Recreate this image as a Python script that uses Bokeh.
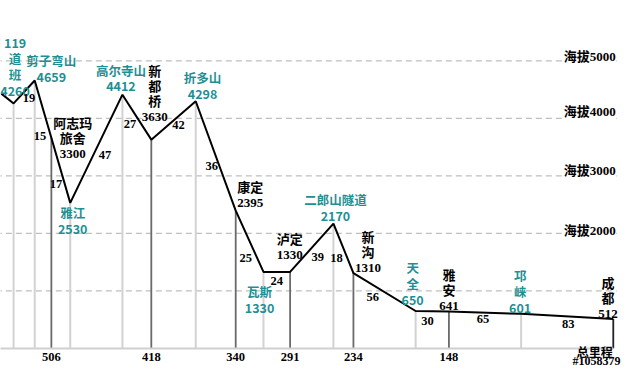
import numpy as np
from bokeh.plotting import figure
from bokeh.models import Range1d, Label
from bokeh.core.properties import value
from bokeh.embed import file_html
from bokeh.resources import INLINE

# ---------------- data ----------------
stations = ["119道班", "剪子弯山", "阿志玛旅舍", "雅江", "高尔寺山", "新都桥", "折多山", "康定",
            "瓦斯", "泸定", "二郎山隧道", "新沟", "天全", "雅安", "邛崃", "成都"]
station_display = ["119\n道\n班", "剪子弯山", "阿志玛\n旅舍", "雅江", "高尔寺山", "新\n都\n桥", "折多山", "康定",
                   "瓦斯", "泸定", "二郎山隧道", "新\n沟", "天\n全", "雅\n安", "邛\n崃", "成\n都"]
elevation_m = [4260, 4659, 3300, 2530, 4412, 3630, 4298, 2395, 1330, 1330, 2170, 1310, 650, 641, 601, 512]
km_to_chengdu = [540, 521, 506, 489, 442, 416, 376, 340, 315, 291, 252, 234, 178, 148, 83, 0]
on_profile = [True, True, False, True, True, True, True, True, True, True, True, True, True, True, True, True]
key_station = [False, False, True, False, False, True, False, True, False, True, False, True, False, True, False, True]
segment_km = [19, 15, 17, 47, 27, 42, 36, 25, 24, 39, 18, 56, 30, 65, 83]
total_km_labels = ["506", "418", "340", "291", "234", "148"]
route_start_km = 551
route_start_elev = 4430
grid_elev = [1000, 2000, 3000, 4000, 5000]
altitude_labels = ["海拔2000", "海拔3000", "海拔4000", "海拔5000"]
altitude_label_elev = [2000, 3000, 4000, 5000]

# ---------------- styles / layout ----------------
TEAL = "#1e8f93"
SERIF_NAME = "Liberation Serif, Noto Sans CJK SC"
SERIF = value(SERIF_NAME)
SANS = value("Noto Sans CJK SC")
SX, SY = 624 / 640, 368 / 384
X_END = -3.07
st_dx = [1.5, 17, 22, 2.5, -1.5, 3.5, 7, 15, -4, -0.5, 2, 15, -3, 0, -1, -5.5]
st_dy = [-70, -27.5, -44.5, 4, -32, -79, -31, -32, 14, -41.7, -31.6, -45.2, -52, -45.5, -46, -45]
seg_dx = [5, -3, -5, 9, -7, 5, -4, -4, 0, 6, -7, -12, -5, -2, 1]
seg_dy = [6, 28, 14, 6, 7, 5, 10, 17, 10, 10, 10, 5, 10, 7, 8]
alt_dy = [-3, -6, -7, -5]

p = figure(width=624, height=368, output_backend="svg", toolbar_location=None,
           x_range=Range1d(551.8, -10.1), y_range=Range1d(-350, 6050),
           min_border=0, outline_line_color=None)
p.axis.visible = False
p.grid.visible = False
p.background_fill_color = "white"
p.border_fill_color = "white"

prof_km = [route_start_km] + [k for k, o in zip(km_to_chengdu, on_profile) if o]
prof_el = [route_start_elev] + [e for e, o in zip(elevation_m, on_profile) if o]
asc_km = prof_km[::-1]
asc_el = prof_el[::-1]
station_top = [float(np.interp(k, asc_km, asc_el)) for k in km_to_chengdu]

for g in grid_elev:
    p.line([route_start_km + 5, X_END], [g, g], line_color="#bfbfbf", line_width=1.2, line_dash="6 4")

lk = [k for k, s in zip(km_to_chengdu, key_station) if not s]
lt = [t for t, s in zip(station_top, key_station) if not s]
p.segment(x0=lk, y0=[0] * len(lk), x1=lk, y1=lt, line_color="#d2d2d2", line_width=2)
dk = [k for k, s in zip(km_to_chengdu, key_station) if s]
dt = [t for t, s in zip(station_top, key_station) if s]
dcol = ["#6a6a6a"] * (len(dk) - 1) + ["#222222"]
p.segment(x0=dk, y0=[0] * len(dk), x1=dk, y1=dt, line_color=dcol, line_width=1.8)

p.line([route_start_km + 5, 0], [0, 0], line_color="#cfcfcf", line_width=2)
p.line(prof_km, prof_el, line_color="black", line_width=2)

for is_key, col, font, size, lh, shift in [(False, TEAL, SANS, "12.5px", 0.84, -3.5),
                                           (True, "black", SERIF, "13px", 1.0, 0)]:
    idx = [i for i in range(len(stations)) if key_station[i] == is_key]
    p.text(x=[km_to_chengdu[i] for i in idx], y=[elevation_m[i] for i in idx],
           text=[station_display[i] + "\n" + str(elevation_m[i]) for i in idx],
           x_offset=[st_dx[i] * SX for i in idx], y_offset=[st_dy[i] * SY + shift for i in idx],
           text_align="center", text_baseline="top", text_color=col,
           text_font=font, text_font_size=size, text_font_style="bold", text_line_height=lh)

mid_km = [(a + b) / 2 for a, b in zip(km_to_chengdu[:-1], km_to_chengdu[1:])]
mid_el = [float(np.interp(m, asc_km, asc_el)) for m in mid_km]
p.text(x=mid_km, y=mid_el, text=[str(s) for s in segment_km],
       x_offset=[d * SX for d in seg_dx], y_offset=[d * SY for d in seg_dy],
       text_align="center", text_baseline="middle", text_color="black",
       text_font=SERIF, text_font_size="12.5px", text_font_style="bold")

bk = [k for k, s in zip(km_to_chengdu, key_station) if s][:len(total_km_labels)]
p.text(x=bk, y=[0] * len(bk), text=total_km_labels, y_offset=9 * SY,
       text_align="center", text_baseline="middle", text_color="black",
       text_font=SERIF, text_font_size="12.5px", text_font_style="bold")
p.text(x=[km_to_chengdu[-1]], y=[0], text=["总里程"], x_offset=-19 * SX, y_offset=5 * SY,
       text_align="center", text_baseline="middle", text_color="black",
       text_font=SERIF, text_font_size="12px", text_font_style="bold")

for lab, el, dy in zip(altitude_labels, altitude_label_elev, alt_dy):
    p.add_layout(Label(x=X_END, y=el, text=lab, text_align="right", text_baseline="middle",
                       y_offset=-dy * SY, x_offset=-1, text_font=SERIF_NAME, text_font_size="13px",
                       text_font_style="bold", text_color="black",
                       background_fill_color="white"))

p.add_layout(Label(x=-6.6, y=-350, text="#1058379", text_align="right", text_baseline="bottom",
                   x_offset=0, y_offset=1, text_font=SERIF_NAME, text_font_size="12px",
                   text_font_style="bold", text_color="black"))

open("out.html", "w").write(file_html(p, INLINE))
